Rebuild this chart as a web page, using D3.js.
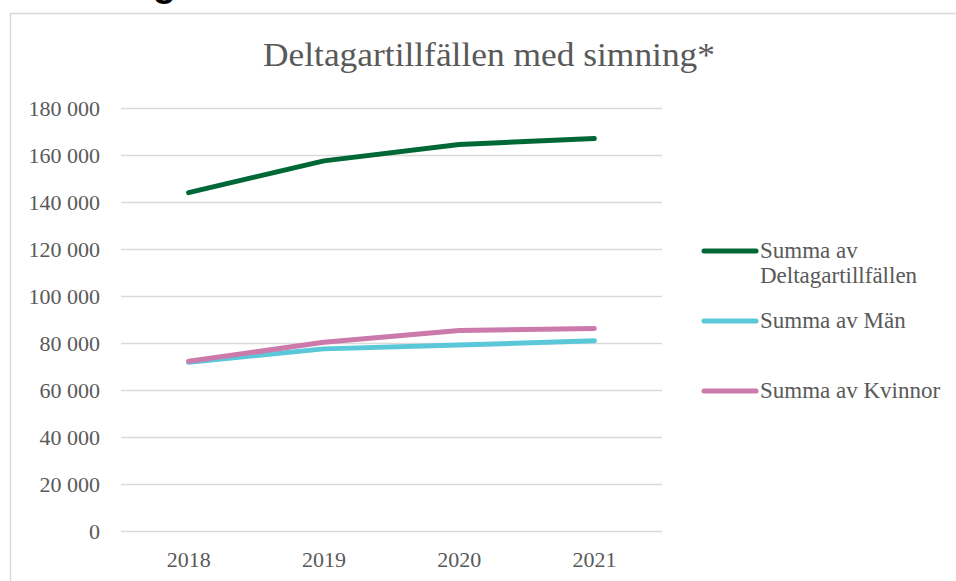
<!DOCTYPE html>
<html>
<head>
<meta charset="utf-8">
<script src="https://cdn.jsdelivr.net/npm/d3@7"></script>
<style>
  body { margin: 0; background: #fff; }
  svg { display: block; }
  text { font-family: "Liberation Serif", "DejaVu Serif", serif; fill: #595959; }
</style>
</head>
<body>
<svg id="dessin" width="956" height="581"></svg>
<script>
let annees = ["2018", "2019", "2020", "2021"];
let totalDeltagare = [144000, 157500, 164500, 167000];
let man = [71800, 77500, 79100, 81000];
let kvinnor = [72200, 80300, 85300, 86200];
let yTicks = [0, 20000, 40000, 60000, 80000, 100000, 120000, 140000, 160000, 180000];
let serier = [
  { nom: ["Summa av", "Deltagartillfällen"], valeurs: totalDeltagare, couleur: "#006837" },
  { nom: ["Summa av Män"], valeurs: man, couleur: "#5bc8da" },
  { nom: ["Summa av Kvinnor"], valeurs: kvinnor, couleur: "#cc79ac" }
];

const svg = d3.select("#dessin");

// bout de titre coupé en haut
svg.append("text")
  .attr("x", 176).attr("y", -4)
  .attr("text-anchor", "end")
  .style("font-family", "Liberation Sans, Arial, sans-serif")
  .style("font-weight", "bold")
  .style("font-size", "38px")
  .style("fill", "#000")
  .text("Simning");

// cadre du graphique
svg.append("rect")
  .attr("x", 10.5).attr("y", 13.5)
  .attr("width", 1000).attr("height", 1000)
  .attr("fill", "none")
  .attr("stroke", "#d9d9d9")
  .attr("stroke-width", 1.5);

svg.append("text")
  .attr("x", 489).attr("y", 66)
  .attr("text-anchor", "middle")
  .style("font-size", "34px")
  .attr("textLength", 452)
  .attr("lengthAdjust", "spacingAndGlyphs")
  .text("Deltagartillfällen med simning*");

const x = d3.scaleBand().domain(annees).range([121, 662]);
const y = d3.scaleLinear().domain([0, 180000]).range([531, 108]);

const fmt = v => d3.format(",")(v).replace(/,/g, " ");

// grille
svg.append("g")
  .selectAll("line")
  .data(yTicks)
  .join("line")
  .attr("x1", 121).attr("x2", 662)
  .attr("y1", d => Math.round(y(d)) + 0.5)
  .attr("y2", d => Math.round(y(d)) + 0.5)
  .attr("stroke", "#d9d9d9")
  .attr("stroke-width", 1.5);

const axeG = d3.axisLeft(y).tickValues(yTicks).tickFormat(fmt).tickSize(0).tickPadding(21);
svg.append("g")
  .attr("transform", "translate(121,0)")
  .call(axeG)
  .call(g => g.select(".domain").remove())
  .selectAll("text")
  .style("font-family", "Liberation Serif, serif")
  .style("font-size", "22px")
  .style("fill", "#595959");

const axeB = d3.axisBottom(x).tickSize(0).tickPadding(20);
svg.append("g")
  .attr("transform", "translate(0,531)")
  .call(axeB)
  .call(g => g.select(".domain").remove())
  .selectAll("text")
  .style("font-family", "Liberation Serif, serif")
  .style("font-size", "22px")
  .style("fill", "#595959");

const ligne = d3.line()
  .x((d, i) => x(annees[i]) + x.bandwidth() / 2)
  .y(d => y(d));

svg.append("g")
  .selectAll("path")
  .data(serier)
  .join("path")
  .attr("d", d => ligne(d.valeurs))
  .attr("fill", "none")
  .attr("stroke", d => d.couleur)
  .attr("stroke-width", 5)
  .attr("stroke-linecap", "round")
  .attr("stroke-linejoin", "round");

// légende
let legendeY = [251, 321, 391];
const leg = svg.append("g")
  .selectAll("g")
  .data(serier)
  .join("g")
  .attr("transform", (d, i) => `translate(0,${legendeY[i]})`);

leg.append("line")
  .attr("x1", 704).attr("x2", 756)
  .attr("stroke", d => d.couleur)
  .attr("stroke-width", 5)
  .attr("stroke-linecap", "round");

leg.append("text")
  .attr("x", 760).attr("y", 7)
  .style("font-size", "23px")
  .selectAll("tspan")
  .data(d => d.nom)
  .join("tspan")
  .attr("x", 760)
  .attr("dy", (d, i) => i === 0 ? 0 : 25)
  .text(d => d);
</script>
</body>
</html>
